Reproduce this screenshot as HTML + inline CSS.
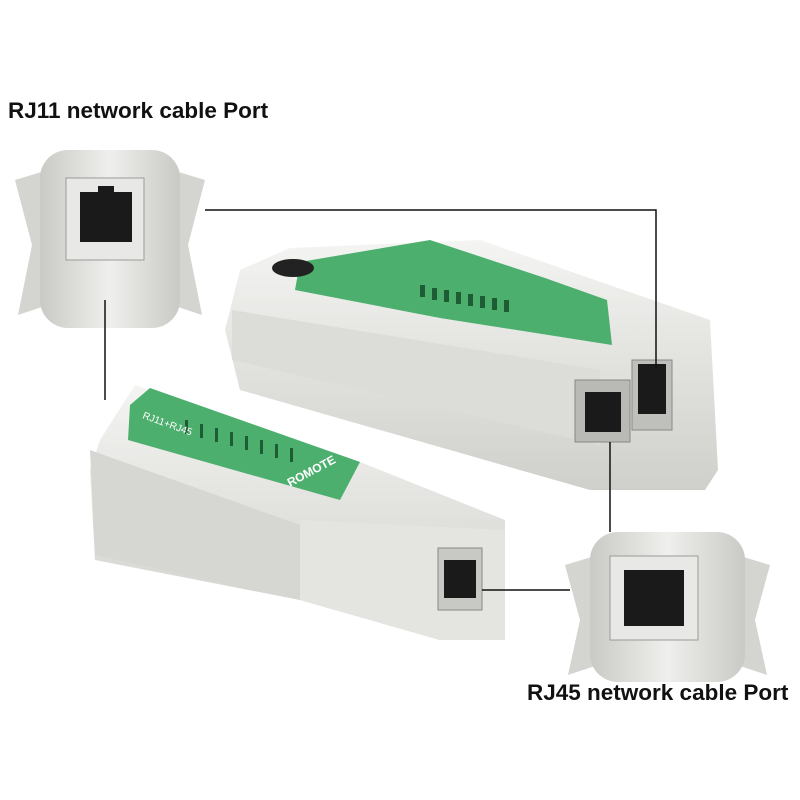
<!DOCTYPE html>
<html><head><style>
html,body{margin:0;padding:0;background:#fff;width:800px;height:800px;overflow:hidden}
svg{display:block}
text{font-family:"Liberation Sans",sans-serif}
</style></head><body>
<svg width="800" height="800" viewBox="0 0 800 800">
<defs>
<linearGradient id="g1" x1="0" y1="0" x2="0" y2="1"><stop offset="0" stop-color="#f4f4f2"/><stop offset="1" stop-color="#cfcfcb"/></linearGradient>
<linearGradient id="g2" x1="0" y1="0" x2="1" y2="0"><stop offset="0" stop-color="#c9c9c5"/><stop offset="0.5" stop-color="#efefed"/><stop offset="1" stop-color="#c9c9c5"/></linearGradient>
</defs>
<rect width="800" height="800" fill="#fff"/>
<text x="8" y="118" font-size="22.5" font-weight="bold" fill="#111">RJ11 network cable Port</text>
<text x="527" y="700" font-size="22.5" font-weight="bold" fill="#111">RJ45 network cable Port</text>

<!-- top-left port -->
<polygon points="15,180 48,170 48,305 18,315 32,245" fill="#d4d4d0"/>
<polygon points="205,180 172,170 172,305 202,315 188,245" fill="#d4d4d0"/>
<rect x="40" y="150" width="140" height="178" rx="28" fill="url(#g2)"/>
<rect x="66" y="178" width="78" height="82" fill="#e8e8e6" stroke="#9a9a96"/>
<rect x="80" y="192" width="52" height="50" fill="#1a1a1a"/>
<rect x="98" y="186" width="16" height="8" fill="#1a1a1a"/>

<!-- main tester -->
<polygon points="240,270 290,248 480,240 710,320 718,470 705,490 590,490 240,390 225,330" fill="url(#g1)"/>
<polygon points="232,310 600,370 600,445 232,360" fill="#dcdcd8"/>
<polygon points="300,262 430,240 545,278 607,300 612,345 440,318 295,290" fill="#4caf6e"/>
<ellipse cx="293" cy="268" rx="21" ry="9" fill="#222"/>
<g fill="#1d5c34"><rect x="420" y="285" width="5" height="12"/><rect x="432" y="288" width="5" height="12"/><rect x="444" y="290" width="5" height="12"/><rect x="456" y="292" width="5" height="12"/><rect x="468" y="294" width="5" height="12"/><rect x="480" y="296" width="5" height="12"/><rect x="492" y="298" width="5" height="12"/><rect x="504" y="300" width="5" height="12"/></g>
<rect x="575" y="380" width="55" height="62" fill="#b9b9b5" stroke="#888"/>
<rect x="585" y="392" width="36" height="40" fill="#1a1a1a"/>
<rect x="632" y="360" width="40" height="70" fill="#bfbfbb" stroke="#888"/>
<rect x="638" y="364" width="28" height="50" fill="#1a1a1a"/>

<!-- remote -->
<polygon points="100,440 135,385 355,460 505,520 505,640 440,640 300,600 95,560 90,470" fill="url(#g1)"/>
<polygon points="90,450 300,525 300,600 95,555" fill="#d6d6d2"/>
<polygon points="130,405 150,388 360,462 340,500 128,440" fill="#4caf6e"/>
<g fill="#1d5c34"><rect x="185" y="420" width="3" height="14"/><rect x="200" y="424" width="3" height="14"/><rect x="215" y="428" width="3" height="14"/><rect x="230" y="432" width="3" height="14"/><rect x="245" y="436" width="3" height="14"/><rect x="260" y="440" width="3" height="14"/><rect x="275" y="444" width="3" height="14"/><rect x="290" y="448" width="3" height="14"/></g>
<text x="290" y="487" font-size="12" font-weight="bold" fill="#fff" transform="rotate(-28 290 487)">ROMOTE</text>
<text x="142" y="418" font-size="10" fill="#fff" transform="rotate(20 142 418)">RJ11+RJ45</text>
<polygon points="300,520 505,530 505,640 440,640 300,600" fill="#e4e4e0"/>
<rect x="438" y="548" width="44" height="62" fill="#c8c8c4" stroke="#888"/>
<rect x="444" y="560" width="32" height="38" fill="#1a1a1a"/>

<!-- bottom-right port -->
<polygon points="565,565 598,555 598,665 568,675 580,620" fill="#d4d4d0"/>
<polygon points="770,565 737,555 737,665 767,675 755,620" fill="#d4d4d0"/>
<rect x="590" y="532" width="155" height="150" rx="28" fill="url(#g2)"/>
<rect x="610" y="556" width="88" height="84" fill="#e8e8e6" stroke="#9a9a96"/>
<rect x="624" y="570" width="60" height="56" fill="#1a1a1a"/>

<!-- connectors -->
<g stroke="#111" stroke-width="1.5" fill="none">
<polyline points="205,210 656,210 656,368"/>
<line x1="105" y1="300" x2="105" y2="400"/>
<line x1="610" y1="442" x2="610" y2="532"/>
<line x1="482" y1="590" x2="570" y2="590"/>
</g>
</svg>
</body></html>
